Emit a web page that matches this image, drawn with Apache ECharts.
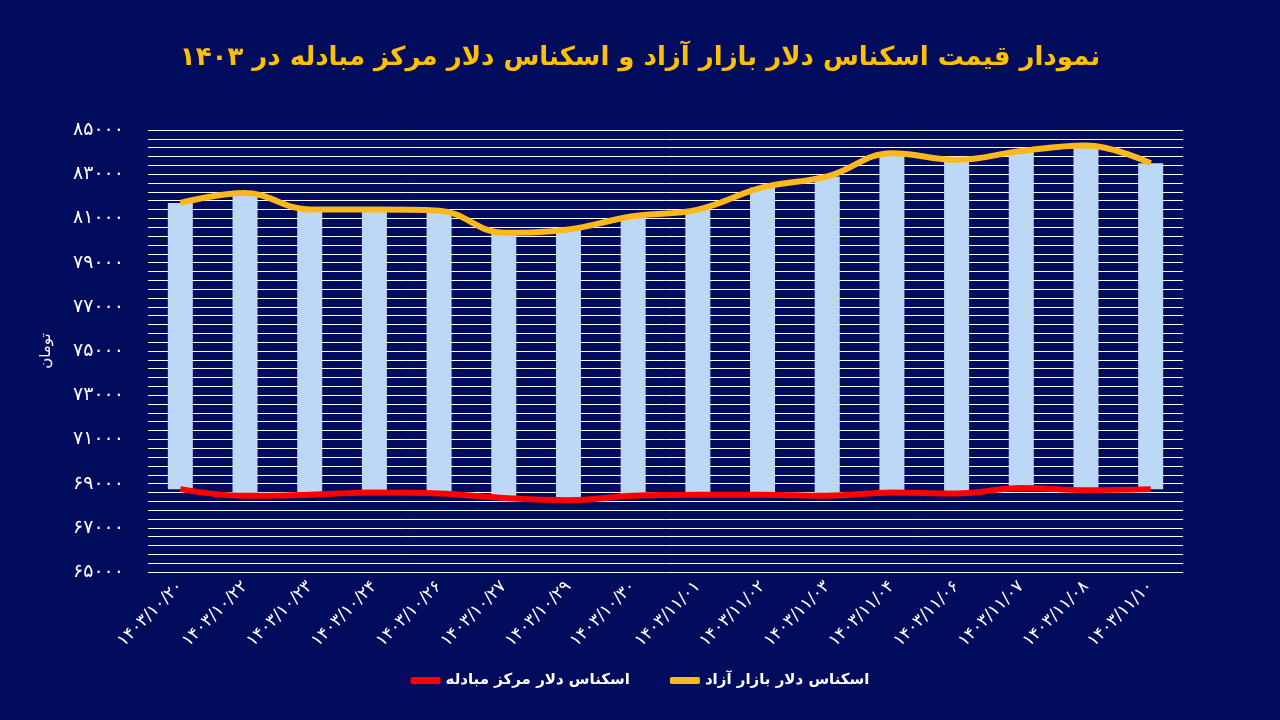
<!DOCTYPE html>
<html>
<head>
<meta charset="utf-8">
<script src="https://cdn.jsdelivr.net/npm/echarts@6/dist/echarts.min.js"></script>
<style>
html,body{margin:0;padding:0;background:#020c5c;}
#c{width:1280px;height:720px;}
</style>
</head>
<body>
<div id="c"></div>
<script>
const categories = ['1403/10/20','1403/10/22','1403/10/23','1403/10/24','1403/10/26','1403/10/27','1403/10/29','1403/10/30','1403/11/01','1403/11/02','1403/11/03','1403/11/04','1403/11/06','1403/11/07','1403/11/08','1403/11/10'];
const marketRate = [81700,82150,81400,81400,81350,80350,80500,81100,81400,82400,82900,83950,83650,84050,84300,83500];
const exchangeRate = [68750,68450,68500,68600,68550,68350,68250,68450,68500,68500,68450,68600,68550,68800,68700,68750];
const yMin = 65000, yMax = 85000, yStep = 2000;
const titleText = 'نمودار قیمت اسکناس دلار بازار آزاد و اسکناس دلار مرکز مبادله در ۱۴۰۳';
const marketName = 'اسکناس دلار بازار آزاد';
const exchangeName = 'اسکناس دلار مرکز مبادله';
const yName = 'تومان';

const fa = s => String(s).replace(/[0-9]/g, d => '۰۱۲۳۴۵۶۷۸۹'[d]);
const diff = marketRate.map((v, i) => v - exchangeRate[i]);

const chart = echarts.init(document.getElementById('c'));
chart.setOption({
  backgroundColor: '#020c5c',
  animation: false,
  textStyle: { fontFamily: 'DejaVu Sans' },
  title: {
    text: titleText,
    left: 'center',
    top: 40,
    textStyle: { color: '#ffc000', fontSize: 26, fontWeight: 'bold', fontFamily: 'DejaVu Sans' }
  },
  legend: {
    data: [exchangeName, marketName],
    bottom: 27,
    left: 'center',
    itemWidth: 30,
    itemHeight: 7,
    itemGap: 40,
    icon: 'roundRect',
    textStyle: { color: '#ffffff', fontSize: 15, fontWeight: 'bold' }
  },
  grid: { left: 148, right: 97, top: 130, bottom: 148 },
  xAxis: {
    type: 'category',
    data: categories,
    axisLine: { show: false },
    axisTick: { show: false },
    axisLabel: { color: '#ffffff', fontSize: 17, rotate: 45, margin: 12, formatter: v => fa(v) }
  },
  yAxis: {
    type: 'value',
    min: yMin, max: yMax, interval: yStep,
    name: yName,
    nameLocation: 'middle',
    nameGap: 94,
    nameRotate: 90,
    nameTextStyle: { color: '#ffffff', fontSize: 15 },
    axisLine: { show: false },
    axisTick: { show: false },
    axisLabel: { color: '#ffffff', fontSize: 19, margin: 24, formatter: v => fa(v) },
    splitLine: { show: true, lineStyle: { color: '#ffffff', width: 1 } },
    minorTick: { show: false, splitNumber: 5 },
    minorSplitLine: { show: true, lineStyle: { color: '#ffffff', width: 1 } }
  },
  series: [
    {
      name: 'base', type: 'bar', stack: 'r', data: exchangeRate, barWidth: 25,
      itemStyle: { color: 'rgba(0,0,0,0)' }, silent: true, legendHoverLink: false
    },
    {
      name: 'range', type: 'bar', stack: 'r', data: diff, barWidth: 25,
      itemStyle: { color: '#bdd7f7' }
    },
    {
      name: exchangeName, type: 'line', data: exchangeRate, smooth: 0.4,
      symbol: 'none', z: 5,
      lineStyle: { color: '#ff0000', width: 6 },
      itemStyle: { color: '#ff0000' }
    },
    {
      name: marketName, type: 'line', data: marketRate, smooth: 0.4,
      symbol: 'none', z: 5,
      lineStyle: { color: '#ffb81c', width: 6 },
      itemStyle: { color: '#ffb81c' }
    }
  ]
});
</script>
</body>
</html>
